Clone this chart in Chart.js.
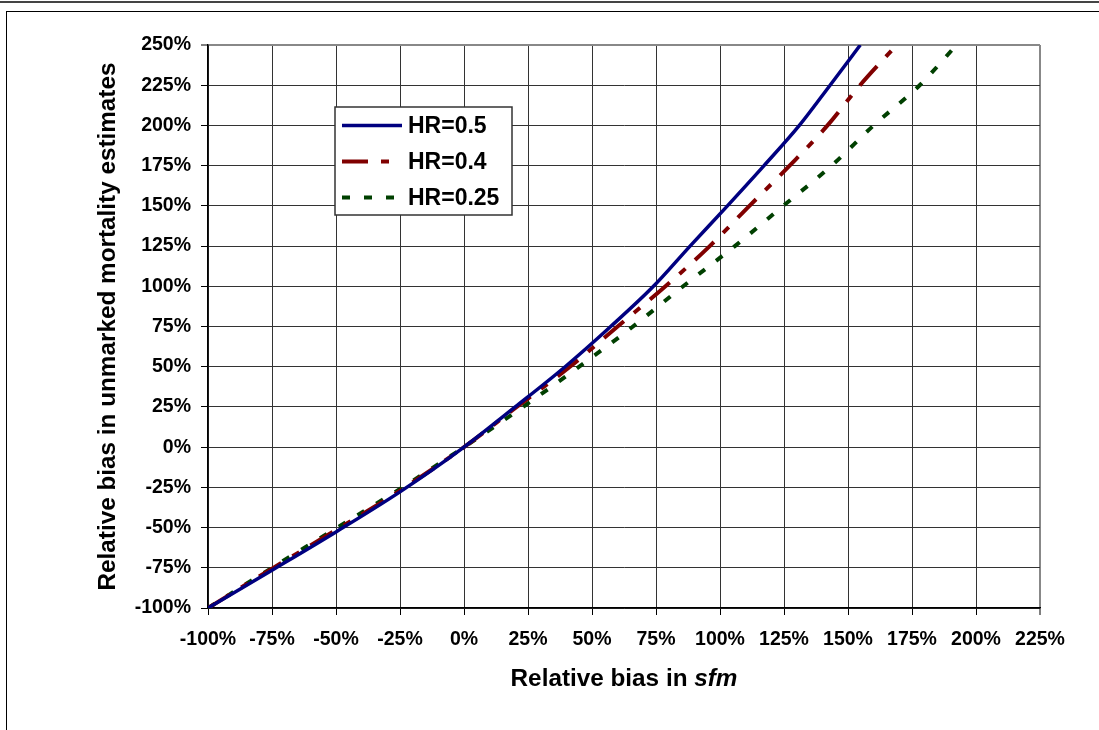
<!DOCTYPE html>
<html>
<head>
<meta charset="utf-8">
<title>Relative bias</title>
<script src="https://cdn.jsdelivr.net/npm/chart.js@4.4.1/dist/chart.umd.min.js"></script>
<style>
  body { margin: 0; background: #fff; }
  #wrap { position: relative; width: 1099px; height: 730px; overflow: hidden; }
  #grafico { position: absolute; left: 0; top: 0; }
  .linha { position: absolute; background: #000; }
</style>
</head>
<body>
<div id="wrap">
  <canvas id="grafico" width="1099" height="730"></canvas>
  <div class="linha" style="left:0;top:1px;width:1099px;height:2px;background:#444"></div>
  <div class="linha" style="left:6px;top:11px;width:1093px;height:1px"></div>
  <div class="linha" style="left:6px;top:11px;width:1px;height:719px"></div>
</div>
<script>
const FONTE = '"Liberation Sans", Arial, sans-serif';

// valores dos eixos (em %)
const ticksX = [-100, -75, -50, -25, 0, 25, 50, 75, 100, 125, 150, 175, 200, 225];
const ticksY = [-100, -75, -50, -25, 0, 25, 50, 75, 100, 125, 150, 175, 200, 225, 250];

// HR=0.5
const xHR05 = [-100, -75, -50, -25, 0, 20, 39.5, 57.3, 74, 88.3, 102.9, 117.2, 131, 143, 154.8];
const yHR05 = [-100, -76.5, -52.7, -27.8, 0, 25, 50, 75, 100, 125, 150, 175, 200, 225, 250];
// HR=0.4
const xHR04 = [-100, -75, -50, -25, 0, 20.6, 41.4, 60, 78.7, 96, 111.5, 127.2, 142, 154.7, 169];
const yHR04 = [-100, -75.5, -51.5, -27, 0, 25, 50, 75, 100, 125, 150, 175, 200, 225, 250];
// HR=0.25
const xHR025 = [-100, -75, -50, -25, 0, 23, 45, 66, 85.6, 105.8, 124.7, 143.6, 160, 178, 192.4];
const yHR025 = [-100, -75, -50.5, -26, 0, 25, 50, 75, 100, 125, 150, 175, 200, 225, 250];

function pontos(xs, ys) {
    return xs.map((x, i) => ({ x: x, y: ys[i] }));
}

// título do eixo x (com "sfm" em itálico)
const tituloX = {
    id: 'tituloX',
    afterDraw(chart) {
        const { ctx, chartArea } = chart;
        const p1 = 'Relative bias in ';
        const p2 = 'sfm';
        ctx.save();
        ctx.fillStyle = '#000';
        ctx.textBaseline = 'alphabetic';
        ctx.font = `bold 24.3px ${FONTE}`;
        const w1 = ctx.measureText(p1).width;
        ctx.font = `italic bold 24.3px ${FONTE}`;
        const w2 = ctx.measureText(p2).width;
        const x0 = (chartArea.left + chartArea.right) / 2 - (w1 + w2) / 2;
        const y0 = chartArea.bottom + 78;
        ctx.font = `bold 24.3px ${FONTE}`;
        ctx.fillText(p1, x0, y0);
        ctx.font = `italic bold 24.3px ${FONTE}`;
        ctx.fillText(p2, x0 + w1, y0);
        ctx.restore();
    }
};

// legenda dentro da área do gráfico
const legenda = {
    id: 'legenda',
    afterDraw(chart) {
        const { ctx } = chart;
        const x = 335, y = 107, w = 177, h = 108;
        ctx.save();
        ctx.fillStyle = '#fff';
        ctx.fillRect(x, y, w, h);
        ctx.strokeStyle = '#333';
        ctx.lineWidth = 1.5;
        ctx.strokeRect(x, y, w, h);
        chart.data.datasets.forEach((ds, i) => {
            const yy = y + 18.5 + i * 36;
            ctx.beginPath();
            ctx.setLineDash(ds.borderDash || []);
            ctx.strokeStyle = ds.borderColor;
            ctx.lineWidth = ds.borderWidth;
            ctx.moveTo(x + 7, yy);
            ctx.lineTo(x + 67, yy);
            ctx.stroke();
            ctx.setLineDash([]);
            ctx.fillStyle = '#000';
            ctx.font = `bold 23px ${FONTE}`;
            ctx.textBaseline = 'middle';
            ctx.fillText(ds.label, x + 73, yy + 1);
        });
        ctx.restore();
    }
};

const ctx = document.getElementById('grafico').getContext('2d');
const grafico = new Chart(ctx, {
    type: 'line',
    data: {
        datasets: [{
            label: 'HR=0.5',
            data: pontos(xHR05, yHR05),
            borderColor: '#000080',
            borderWidth: 3.5,
            pointRadius: 0,
            cubicInterpolationMode: 'monotone'
        }, {
            label: 'HR=0.4',
            data: pontos(xHR04, yHR04),
            borderColor: '#800000',
            borderWidth: 4,
            borderDash: [26, 13, 8, 13],
            pointRadius: 0,
            cubicInterpolationMode: 'monotone'
        }, {
            label: 'HR=0.25',
            data: pontos(xHR025, yHR025),
            borderColor: '#004000',
            borderWidth: 4,
            borderDash: [8, 14],
            pointRadius: 0,
            cubicInterpolationMode: 'monotone'
        }]
    },
    options: {
        responsive: false,
        animation: false,
        layout: { padding: { top: 45, right: 59, bottom: 0, left: 0 } },
        plugins: {
            legend: { display: false },
            tooltip: { enabled: false }
        },
        scales: {
            x: {
                type: 'linear',
                min: -100,
                max: 225,
                afterFit: s => { s.height = 122; },
                afterBuildTicks: s => { s.ticks = ticksX.map(v => ({ value: v })); },
                border: { color: '#000', width: 1.5 },
                grid: {
                    color: c => c.index === ticksX.length - 1 ? '#888' : '#333',
                    lineWidth: c => c.index === ticksX.length - 1 ? 2 : 1,
                    tickColor: '#000',
                    tickWidth: 1,
                    tickLength: 7
                },
                ticks: {
                    padding: 13,
                    color: '#000',
                    maxRotation: 0,
                    font: { family: FONTE, size: 19.5, weight: 'bold' },
                    callback: v => v + '%'
                }
            },
            y: {
                min: -100,
                max: 250,
                afterFit: s => { s.width = 208; },
                afterBuildTicks: s => { s.ticks = ticksY.map(v => ({ value: v })); },
                border: { color: '#000', width: 1.5 },
                grid: {
                    color: c => c.index === ticksY.length - 1 ? '#888' : '#333',
                    lineWidth: c => c.index === ticksY.length - 1 ? 2 : 1,
                    tickColor: '#000',
                    tickWidth: 1,
                    tickLength: 7
                },
                ticks: {
                    padding: 10,
                    color: '#000',
                    font: { family: FONTE, size: 19.5, weight: 'bold' },
                    callback: v => v + '%'
                },
                title: {
                    display: true,
                    text: 'Relative bias in unmarked mortality estimates',
                    color: '#000',
                    font: { family: FONTE, size: 24.3, weight: 'bold' },
                    padding: { top: 93.4, bottom: 0 }
                }
            }
        }
    },
    plugins: [tituloX, legenda]
});
</script>
</body>
</html>
